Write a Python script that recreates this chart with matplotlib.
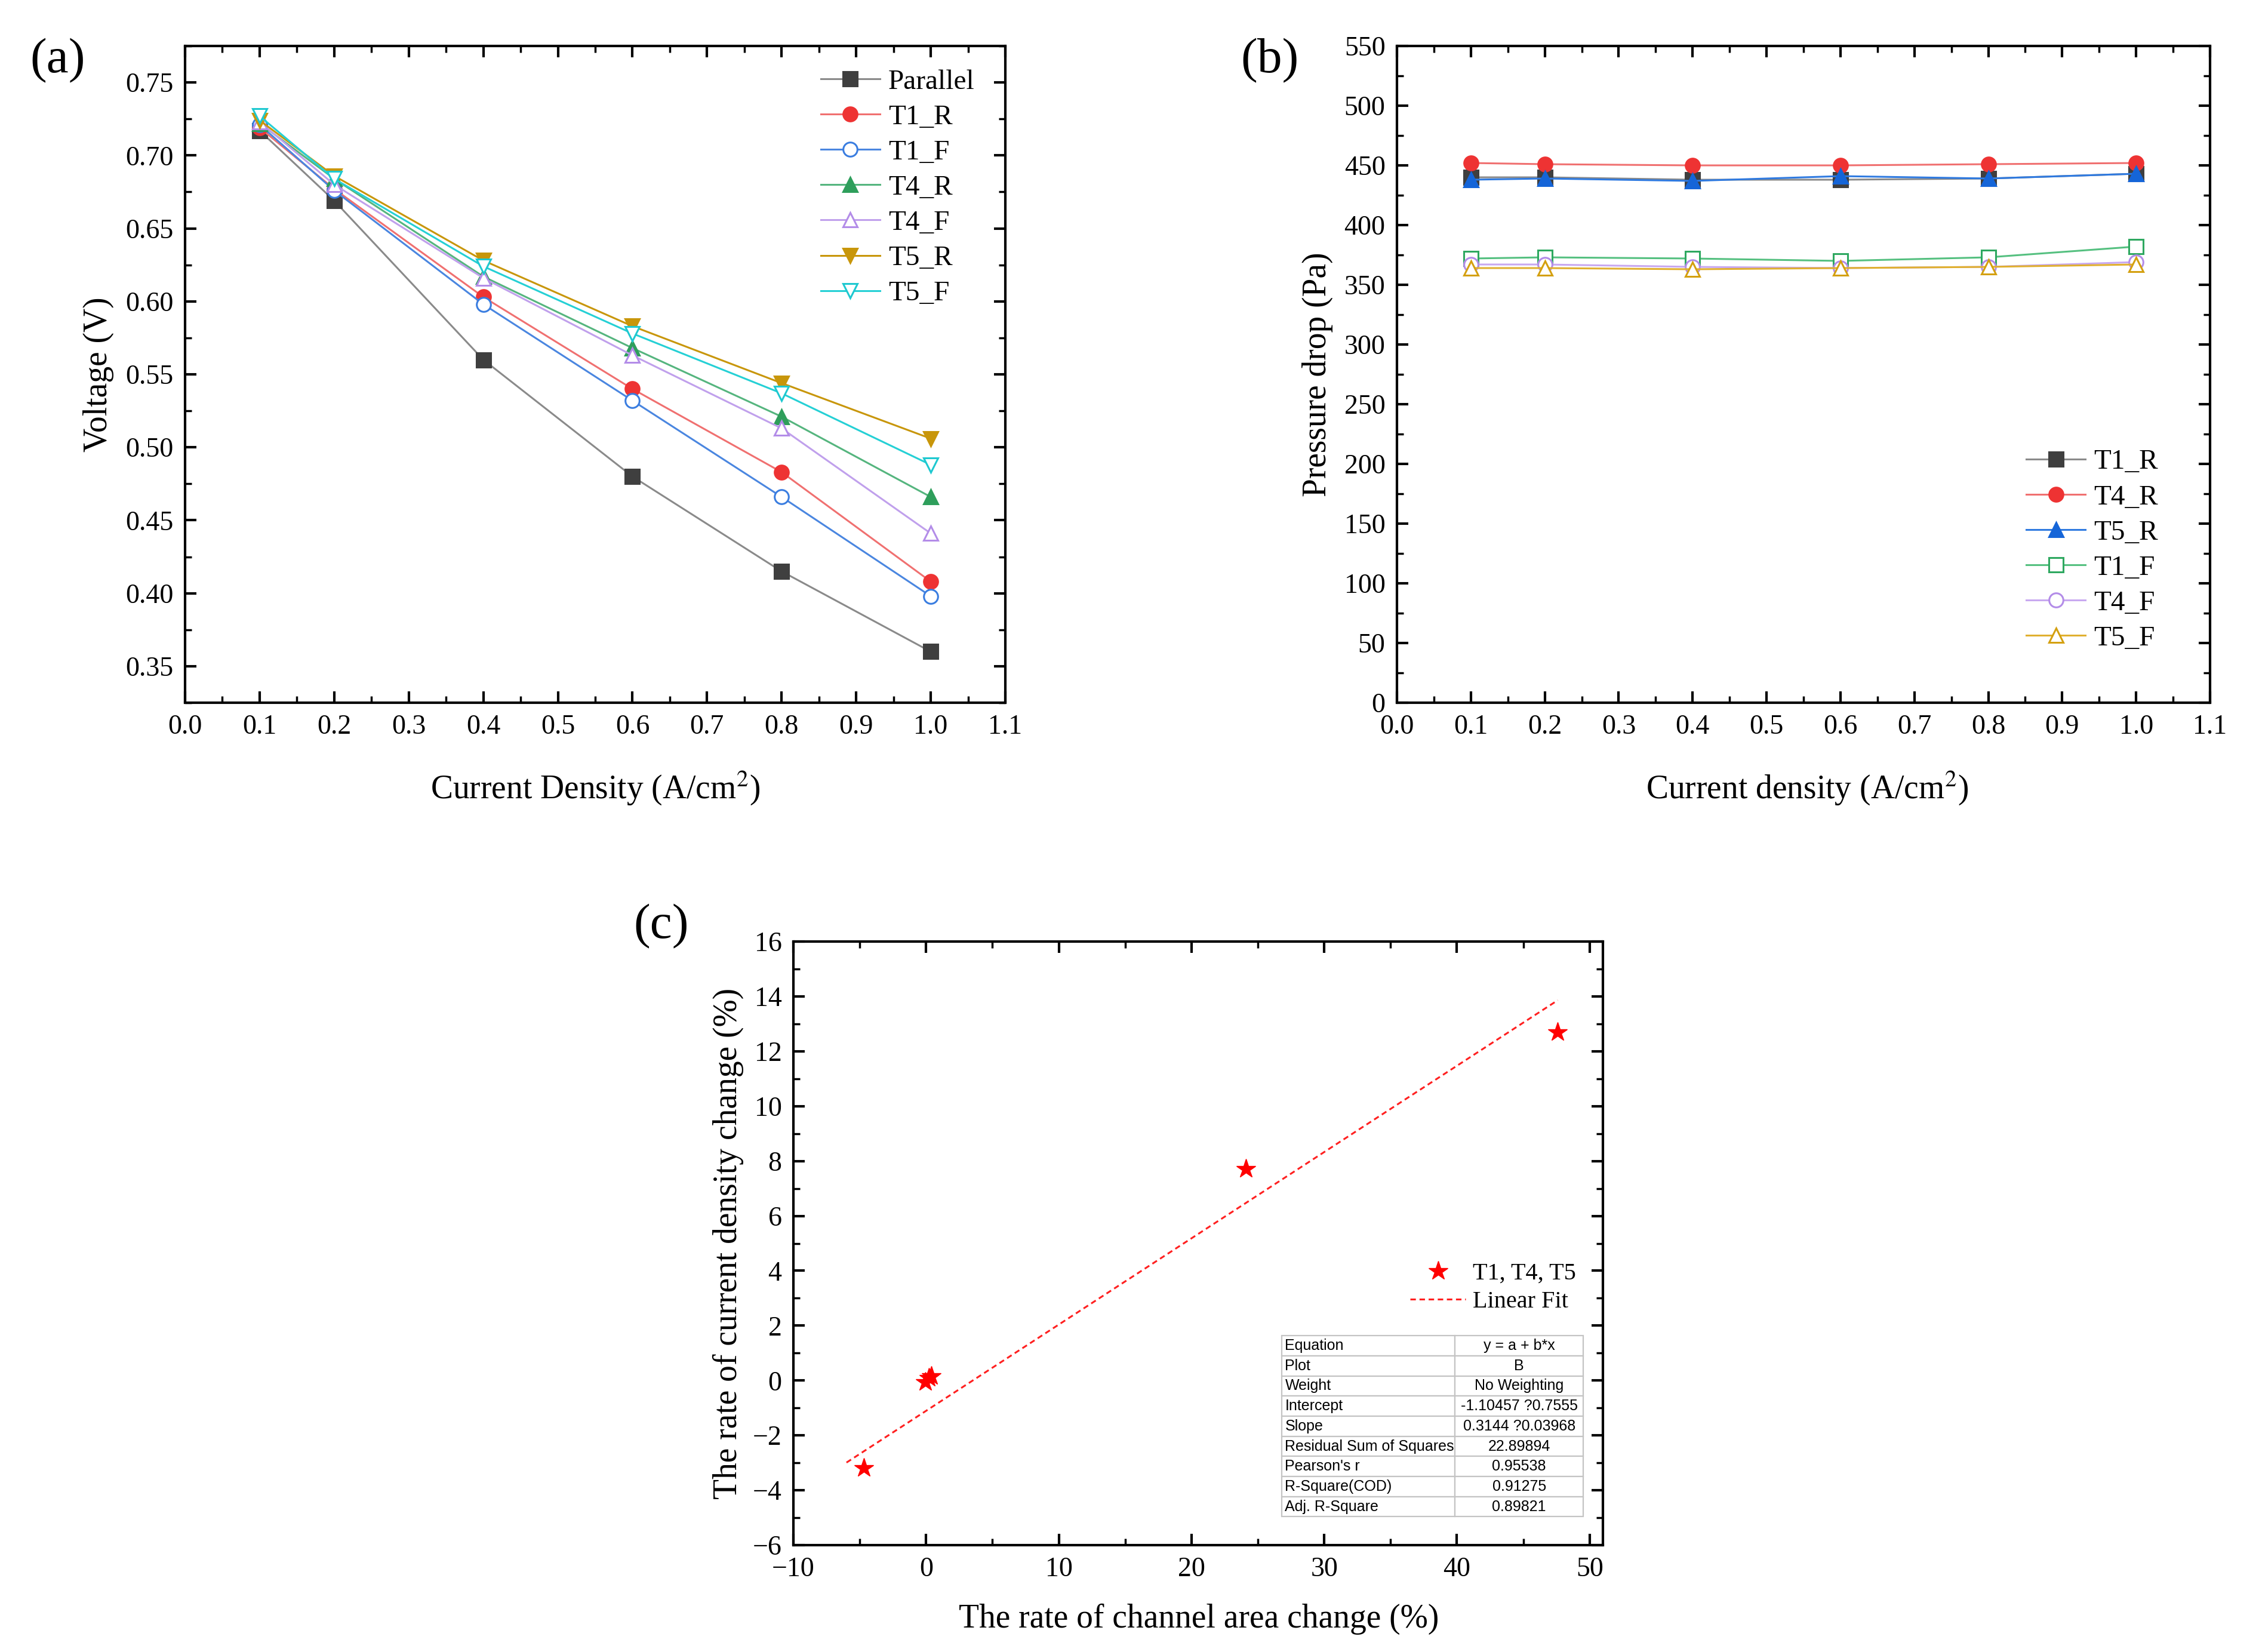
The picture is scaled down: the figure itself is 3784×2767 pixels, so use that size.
import matplotlib
matplotlib.use("Agg")
import matplotlib.pyplot as plt
from matplotlib.ticker import MultipleLocator, FormatStrFormatter

plt.rcParams['font.family'] = ['Liberation Serif', 'DejaVu Serif']
plt.rcParams['mathtext.fontset'] = 'stix'

# ---------------- data ----------------
cd_x = [0.1, 0.2, 0.4, 0.6, 0.8, 1.0]

# panel (a) voltage (V)
v_parallel = [0.717, 0.669, 0.560, 0.480, 0.415, 0.360]
v_t1_r = [0.719, 0.677, 0.603, 0.540, 0.483, 0.408]
v_t1_f = [0.721, 0.676, 0.598, 0.532, 0.466, 0.398]
v_t4_r = [0.722, 0.684, 0.617, 0.568, 0.521, 0.466]
v_t4_f = [0.723, 0.680, 0.616, 0.563, 0.513, 0.441]
v_t5_r = [0.724, 0.686, 0.628, 0.583, 0.544, 0.506]
v_t5_f = [0.727, 0.684, 0.624, 0.578, 0.537, 0.488]
a_labels = ['Parallel', 'T1_R', 'T1_F', 'T4_R', 'T4_F', 'T5_R', 'T5_F']

# panel (b) pressure drop (Pa)
p_t1_r = [440, 440, 438, 438, 439, 443]
p_t4_r = [452, 451, 450, 450, 451, 452]
p_t5_r = [438, 439, 437, 441, 439, 443]
p_t1_f = [372, 373, 372, 370, 373, 382]
p_t4_f = [367, 367, 365, 364, 365, 369]
p_t5_f = [364, 364, 363, 364, 365, 367]
b_labels = ['T1_R', 'T4_R', 'T5_R', 'T1_F', 'T4_F', 'T5_F']

# panel (c)
area_change = [-4.7, -0.05, 0.2, 0.4, 24.1, 47.6]
cd_change = [-3.2, -0.05, 0.10, 0.15, 7.7, 12.7]
fit_intercept = -1.10457
fit_slope = 0.3144
fit_x_range = [-6.0, 47.6]
table_keys = ['Equation', 'Plot', 'Weight', 'Intercept', 'Slope',
              'Residual Sum of Squares', "Pearson's r", 'R-Square(COD)', 'Adj. R-Square']
table_vals = ['y = a + b*x', 'B', 'No Weighting', '-1.10457 ?0.7555', '0.3144 ?0.03968',
              '22.89894', '0.95538', '0.91275', '0.89821']

# ---------------- figure ----------------
W, H = 3784, 2767
fig = plt.figure(figsize=(W / 100, H / 100), dpi=100)

def axpos(l, r, t, b):
    return [l / W, 1 - b / H, (r - l) / W, (b - t) / H]

ax_a = fig.add_axes(axpos(310, 1684, 77, 1177))
ax_b = fig.add_axes(axpos(2340, 3702, 77, 1177))
ax_c = fig.add_axes(axpos(1329, 2685, 1577, 2588))

TICK_FS = 33
LABEL_FS = 40

def style_axes(ax):
    for s in ax.spines.values():
        s.set_linewidth(3.0)
    ax.tick_params(which='both', direction='in', top=True, right=True,
                   labelsize=TICK_FS, pad=14)
    ax.tick_params(which='major', length=14, width=3)
    ax.tick_params(which='minor', length=8, width=2.5)

# ---- (a) ----
a_series = [v_parallel, v_t1_r, v_t1_f, v_t4_r, v_t4_f, v_t5_r, v_t5_f]
a_styles = [
    dict(color='#8a8a8a', marker='s', mfc='#3f3f3f', mec='#3f3f3f'),
    dict(color='#f07070', marker='o', mfc='#ee3333', mec='#ee3333'),
    dict(color='#4a86e0', marker='o', mfc='white', mec='#3a7de0'),
    dict(color='#55b57e', marker='^', mfc='#2e9e5b', mec='#2e9e5b'),
    dict(color='#c0a0ec', marker='^', mfc='white', mec='#b38ce8'),
    dict(color='#c8960a', marker='v', mfc='#c8960a', mec='#c8960a'),
    dict(color='#25d0d5', marker='v', mfc='white', mec='#1ec8d0'),
]
for ys, lab, st in zip(a_series, a_labels, a_styles):
    ax_a.plot(cd_x, ys, label=lab, lw=2.2, ms=17, mew=2.2, **st)
ax_a.set_xlim(0.0, 1.1)
ax_a.set_ylim(0.325, 0.775)
ax_a.xaxis.set_major_locator(MultipleLocator(0.1))
ax_a.xaxis.set_minor_locator(MultipleLocator(0.05))
ax_a.yaxis.set_major_locator(MultipleLocator(0.05))
ax_a.yaxis.set_minor_locator(MultipleLocator(0.025))
ax_a.xaxis.set_major_formatter(FormatStrFormatter('%.1f'))
ax_a.yaxis.set_major_formatter(FormatStrFormatter('%.2f'))
style_axes(ax_a)
ax_a.legend(loc='upper left', bbox_to_anchor=(0.775, 0.965), frameon=False,
            fontsize=34, handlelength=2.1, handletextpad=0.3, labelspacing=0.34,
            borderpad=0, borderaxespad=0)

# ---- (b) ----
b_series = [p_t1_r, p_t4_r, p_t5_r, p_t1_f, p_t4_f, p_t5_f]
b_styles = [
    dict(color='#8a8a8a', marker='s', mfc='#3f3f3f', mec='#3f3f3f'),
    dict(color='#f07070', marker='o', mfc='#ee3333', mec='#ee3333'),
    dict(color='#2f7ae0', marker='^', mfc='#1565d8', mec='#1565d8'),
    dict(color='#55c080', marker='s', mfc='white', mec='#2ea860'),
    dict(color='#c8a8f0', marker='o', mfc='white', mec='#b38ce8'),
    dict(color='#e0b030', marker='^', mfc='white', mec='#d4a010'),
]
for ys, lab, st in zip(b_series, b_labels, b_styles):
    ax_b.plot(cd_x, ys, label=lab, lw=2.2, ms=17, mew=2.2, **st)
ax_b.set_xlim(0.0, 1.1)
ax_b.set_ylim(0, 550)
ax_b.xaxis.set_major_locator(MultipleLocator(0.1))
ax_b.xaxis.set_minor_locator(MultipleLocator(0.05))
ax_b.yaxis.set_major_locator(MultipleLocator(50))
ax_b.yaxis.set_minor_locator(MultipleLocator(25))
ax_b.xaxis.set_major_formatter(FormatStrFormatter('%.1f'))
style_axes(ax_b)
ax_b.legend(loc='upper left', bbox_to_anchor=(0.774, 0.386), frameon=False,
            fontsize=34, handlelength=2.1, handletextpad=0.3, labelspacing=0.34,
            borderpad=0, borderaxespad=0)

# ---- (c) ----
ax_c.plot(area_change, cd_change, linestyle='none', marker='*', ms=24,
          color='#ff0000', label='T1, T4, T5', zorder=3)
fx = fit_x_range
fy = [fit_intercept + fit_slope * v for v in fx]
ax_c.plot(fx, fy, linestyle=(0, (3, 2)), color='#ff2020', lw=2.2, label='Linear Fit')
ax_c.set_xlim(-10, 51)
ax_c.set_ylim(-6, 16)
ax_c.xaxis.set_major_locator(MultipleLocator(10))
ax_c.xaxis.set_minor_locator(MultipleLocator(5))
ax_c.yaxis.set_major_locator(MultipleLocator(2))
ax_c.yaxis.set_minor_locator(MultipleLocator(1))
style_axes(ax_c)
ax_c.legend(loc='upper left', bbox_to_anchor=(0.762, 0.468), frameon=False,
            fontsize=29, handlelength=2.3, handletextpad=0.3, labelspacing=0.25,
            borderpad=0, borderaxespad=0)

tbl = ax_c.table(cellText=[[k, v] for k, v in zip(table_keys, table_vals)],
                 colWidths=[0.574, 0.426], cellLoc='center',
                 bbox=[0.603, 0.047, 0.373, 0.300])
tbl.auto_set_font_size(False)
tbl.set_fontsize(18)
for (r, c), cell in tbl.get_celld().items():
    cell.set_edgecolor('#c4c4c4')
    cell.set_linewidth(1.6)
    cell.get_text().set_fontfamily(['Liberation Sans', 'DejaVu Sans'])
    if c == 0:
        cell._loc = 'left'
        cell.get_text().set_ha('left')
        cell.PAD = 0.02

# ---- labels ----
fig.text(0.0436, 1 - 627 / H, 'Voltage (V)', rotation=90, ha='center', va='center', fontsize=LABEL_FS)
fig.text(997 / W, 1 - 1320 / H, 'Current Density (A/cm$^2$)', ha='center', va='center', fontsize=LABEL_FS)
fig.text(2207 / W, 1 - 627 / H, 'Pressure drop (Pa)', rotation=90, ha='center', va='center', fontsize=LABEL_FS)
fig.text(3027 / W, 1 - 1320 / H, 'Current density (A/cm$^2$)', ha='center', va='center', fontsize=LABEL_FS)
fig.text(1220 / W, 1 - 2083 / H, 'The rate of current density change (%)', rotation=90,
         ha='center', va='center', fontsize=LABEL_FS)
fig.text(2008 / W, 1 - 2712 / H, 'The rate of channel area change (%)', ha='center', va='center',
         fontsize=LABEL_FS)

fig.text(97 / W, 1 - 102 / H, '(a)', ha='center', va='center', fontsize=60)
fig.text(2127 / W, 1 - 102 / H, '(b)', ha='center', va='center', fontsize=60)
fig.text(1108 / W, 1 - 1552 / H, '(c)', ha='center', va='center', fontsize=60)

fig.savefig('out.png', dpi=100, facecolor='white')
